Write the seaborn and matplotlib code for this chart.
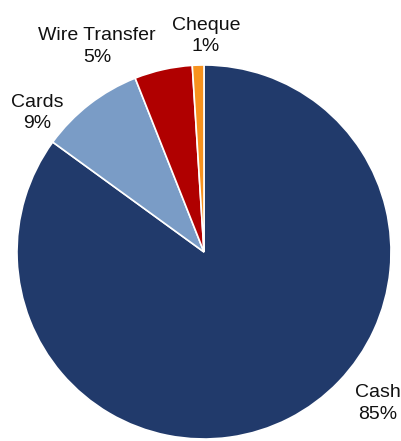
import matplotlib
matplotlib.use("Agg")
import matplotlib.pyplot as plt
import seaborn as sns

# Datos
categories = ["Cash", "Cards", "Wire Transfer", "Cheque"]
shares = [85, 9, 5, 1]
colors = ["#213A6B", "#7A9CC6", "#B00000", "#F7921E"]

# Posiciones de las etiquetas (coordenadas del eje)
label_pos = [(0.93, -0.81), (-0.893, 0.743), (-0.572, 1.10), (0.011, 1.155)]

sns.set_theme(style="white")
plt.rcParams['font.family'] = ['Liberation Sans', 'DejaVu Sans']

fig = plt.figure(figsize=(4.01, 4.41), dpi=100)
ax = fig.add_axes([0, 0, 1, 1])

ax.pie(shares, colors=colors, startangle=90, counterclock=False,
       wedgeprops=dict(edgecolor="white", linewidth=1.2))

for name, val, (x, y) in zip(categories, shares, label_pos):
    ax.text(x, y, f"{name}\n{val}%", ha="center", va="center",
            fontsize=14, color="#111111", linespacing=1.35)

ax.set_xlim(-204 / 187, 197 / 187)
ax.set_ylim(-(441 - 252) / 187, 252 / 187)
ax.set_aspect("equal")
ax.axis("off")

fig.savefig("out.png", dpi=100, facecolor="white")
